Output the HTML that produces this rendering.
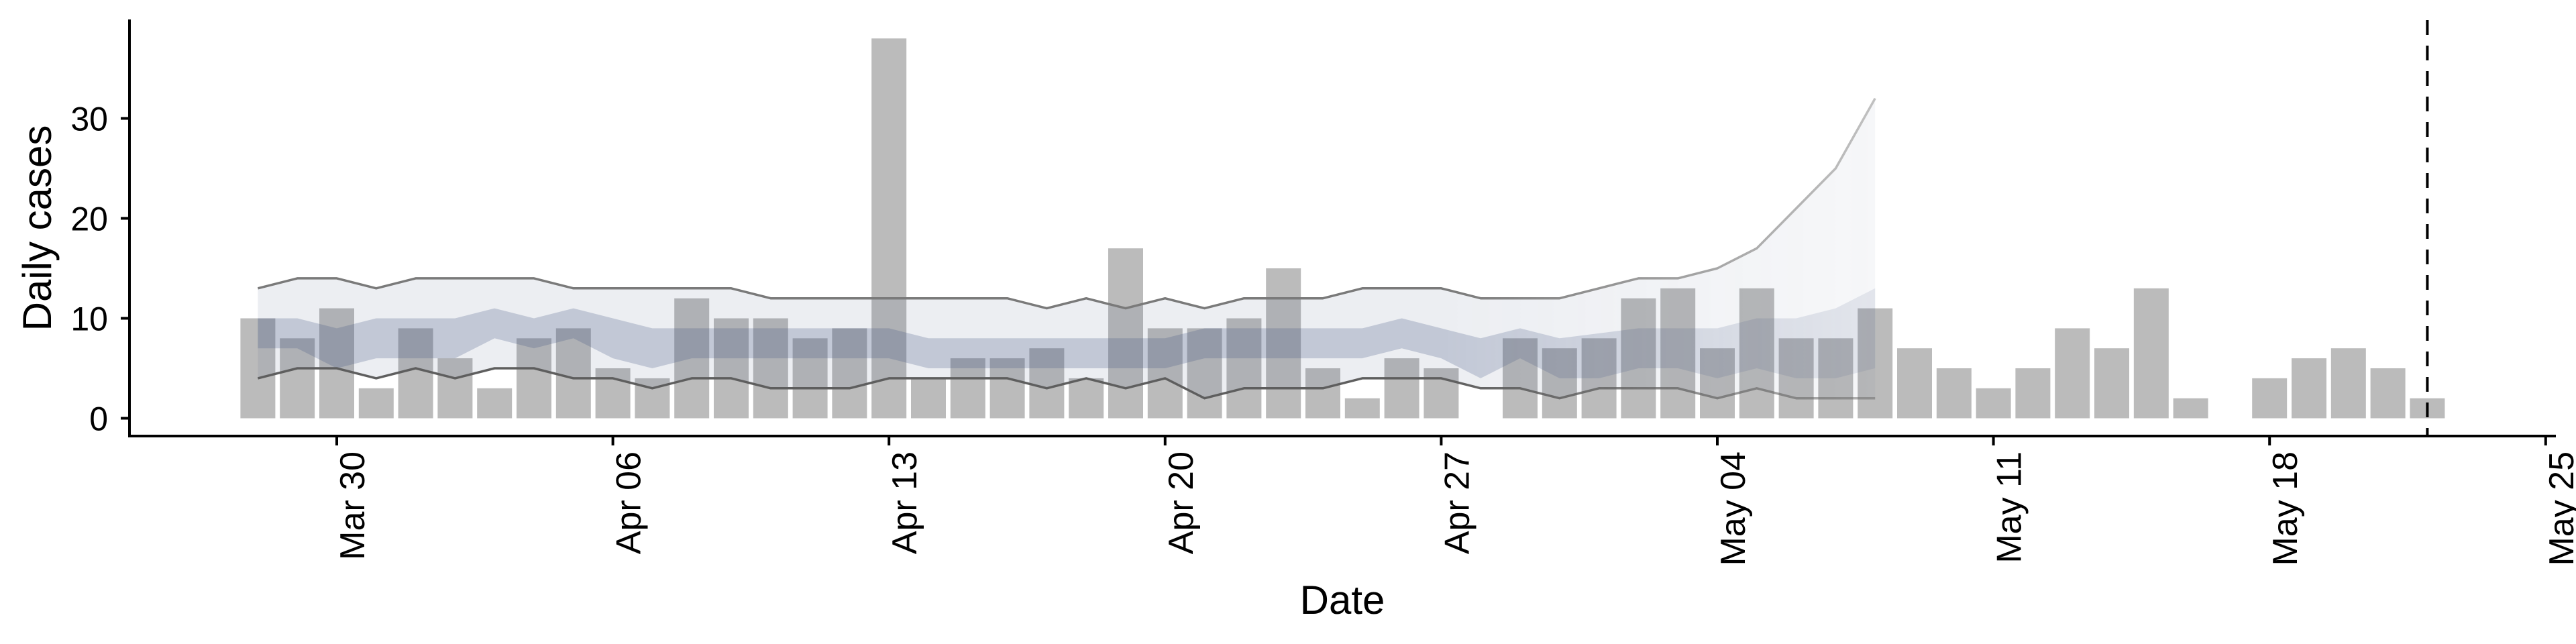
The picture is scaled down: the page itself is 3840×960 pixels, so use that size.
<!DOCTYPE html>
<html><head><meta charset="utf-8"><style>
html,body{margin:0;padding:0;background:#fff}
svg{display:block}
text{font-family:"Liberation Sans",Arial,sans-serif;fill:#000}
</style></head><body>
<svg id="chart" width="3840" height="960" viewBox="0 0 3840 960" xmlns="http://www.w3.org/2000/svg">
<defs>
<linearGradient id="fadeGrad" gradientUnits="userSpaceOnUse" x1="2150" y1="0" x2="2800" y2="0">
<stop offset="0" stop-color="#fff"/><stop offset="1" stop-color="#777"/>
</linearGradient>
<mask id="fadeMask" maskUnits="userSpaceOnUse" x="0" y="0" width="3840" height="960">
<rect x="0" y="0" width="3840" height="960" fill="url(#fadeGrad)"/>
</mask>
</defs>
<g id="bars"></g>
<g id="model" mask="url(#fadeMask)"></g>
<g id="axes"></g>
</svg>
<script>
// Data
const barStart = -2; // days relative to Mar 30 (Mar 28)
const cases = [10,8,11,3,9,6,3,8,9,5,4,12,10,10,8,9,38,4,6,6,7,4,17,9,9,10,15,5,2,6,5,0,8,7,8,12,13,7,13,8,8,11,7,5,3,5,9,7,13,2,0,4,6,7,5,2];
const bandStart = -2;
const outerUpper = [13,14,14,13,14,14,14,14,13,13,13,13,13,12,12,12,12,12,12,12,11,12,11,12,11,12,12,12,13,13,13,12,12,12,13,14,14,15,17,21,25,32];
const outerLower = [4,5,5,4,5,4,5,5,4,4,3,4,4,3,3,3,4,4,4,4,3,4,3,4,2,3,3,3,4,4,4,3,3,2,3,3,3,2,3,2,2,2];
const innerUpper = [10,10,9,10,10,10,11,10,11,10,9,9,9,9,9,9,9,8,8,8,8,8,8,8,9,9,9,9,9,10,9,8,9,8,8.5,9,9,9,10,10,11,13];
const innerLower = [7,7,5,6,6,6,8,7,8,6,5,6,6,6,6,6,6,5,5,5,5,5,5,5,6,6,6,6,6,7,6,4,6,4,4,5,5,4,5,4,4,5];
const xTickLabels = ["Mar 30","Apr 06","Apr 13","Apr 20","Apr 27","May 04","May 11","May 18","May 25"];
const xTickDays = [0,7,14,21,28,35,42,49,56];
const yTicks = [0,10,20,30];
const markerDay = 53;

const NS="http://www.w3.org/2000/svg";
const X0=502, DAY=58.8, Y0=623.5, UNIT=14.9;
const xs=d=>X0+d*DAY;
const ys=v=>Y0-v*UNIT;
function mk(tag,attrs,parent){const e=document.createElementNS(NS,tag);for(const k in attrs)e.setAttribute(k,attrs[k]);parent.appendChild(e);return e;}

const gb=document.getElementById('bars');
cases.forEach((v,i)=>{
  if(v<=0)return;
  const cx=xs(barStart+i);
  const r=mk('rect',{x:cx-26,y:ys(v),width:52,height:ys(0)-ys(v),fill:'#bbbbbb'},gb);
  
  
});

const gm=document.getElementById('model');
function bandPath(up,lo){
  let d='';
  up.forEach((v,i)=>{d+=(i?'L':'M')+xs(bandStart+i)+','+ys(v);});
  for(let i=lo.length-1;i>=0;i--)d+='L'+xs(bandStart+i)+','+ys(lo[i]);
  return d+'Z';
}
function linePath(arr){let d='';arr.forEach((v,i)=>{d+=(i?'L':'M')+xs(bandStart+i)+','+ys(v);});return d;}
const ob=mk('path',{d:bandPath(outerUpper,outerLower),fill:'rgb(68,87,130)','fill-opacity':0.1},gm);


const ib=mk('path',{d:bandPath(innerUpper,innerLower),fill:'rgb(68,87,130)','fill-opacity':0.25},gm);


const ul=mk('path',{d:linePath(outerUpper),fill:'none',stroke:'#7a7a7a','stroke-width':3.5,'stroke-linejoin':'round'},gm);


const ll=mk('path',{d:linePath(outerLower),fill:'none',stroke:'#5e5e5e','stroke-width':3.5,'stroke-linejoin':'round'},gm);



const ga=document.getElementById('axes');
const ya=mk('line',{x1:193,y1:29,x2:193,y2:652,stroke:'#000','stroke-width':4},ga);


const xa=mk('line',{x1:191,y1:650,x2:3810,y2:650,stroke:'#000','stroke-width':4},ga);


yTicks.forEach(t=>{
  const tk=mk('line',{x1:180,y1:ys(t),x2:193,y2:ys(t),stroke:'#000','stroke-width':4},ga);
  
  
  const tx=mk('text',{x:161,y:ys(t)+18,'text-anchor':'end','font-size':50},ga);
  tx.textContent=t;
  
  
});
xTickDays.forEach((d,i)=>{
  const x=xs(d);
  const tk=mk('line',{x1:x,y1:650,x2:x,y2:664,stroke:'#000','stroke-width':4},ga);
  
  
  const tx=mk('text',{transform:`translate(${x+41},673) rotate(-90)`,'text-anchor':'end','font-size':52},ga);
  tx.textContent=xTickLabels[i];
  
  
});
const dl=mk('line',{x1:xs(markerDay),y1:30,x2:xs(markerDay),y2:650,stroke:'#000','stroke-width':4,'stroke-dasharray':'22,16'},ga);


const yl=mk('text',{transform:'translate(76,340) rotate(-90)','text-anchor':'middle','font-size':60},ga);
yl.textContent='Daily cases';


const xl=mk('text',{x:2001,y:915,'text-anchor':'middle','font-size':60},ga);
xl.textContent='Date';


</script>
</body></html>
